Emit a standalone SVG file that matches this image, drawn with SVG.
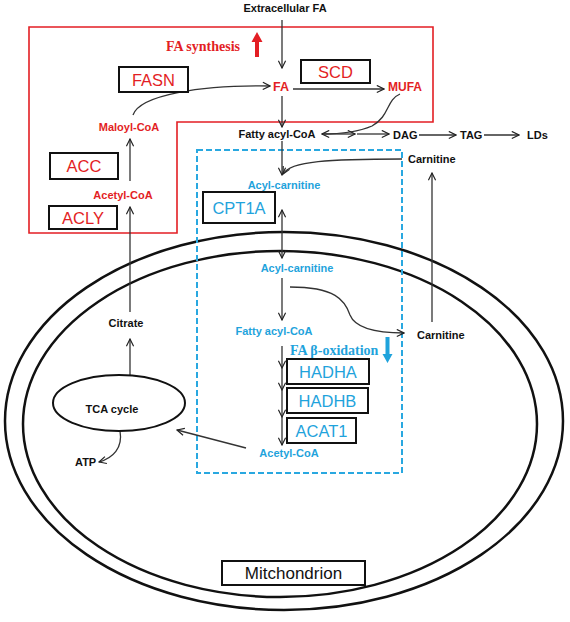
<svg xmlns="http://www.w3.org/2000/svg" width="570" height="622" viewBox="0 0 570 622">
<defs>
<marker id="arr" viewBox="0 0 10 10" refX="9" refY="5" markerWidth="9" markerHeight="9" markerUnits="userSpaceOnUse" orient="auto-start-reverse">
<path d="M1,1 L9,5 L1,9" fill="none" stroke="#222" stroke-width="1.3"/>
</marker>
<style>
.lbl{font-family:"Liberation Sans",Arial,sans-serif;font-weight:bold;font-size:11px}
.blk{fill:#111}
.red{fill:#e31e24}
.blu{fill:#1fa3dc}
.box{fill:#fff;stroke:#111;stroke-width:2}
.btxt{font-family:"Liberation Sans",Arial,sans-serif;font-size:16.5px;text-anchor:middle}
.ser{font-family:"Liberation Serif","Times New Roman",serif;font-weight:bold;font-size:14px}
.ln{fill:none;stroke:#333;stroke-width:1.3;marker-end:url(#arr)}
.mem{fill:none;stroke:#111;stroke-width:2.5}
</style>
</defs>
<rect width="570" height="622" fill="#fff"/>
<g id="membranes">
<ellipse class="mem" cx="284" cy="421" rx="279" ry="189"/>
<ellipse class="mem" cx="280" cy="424" rx="257" ry="173"/>
</g>
<g id="cytosol-synthesis">
<polygon points="29,27 433,27 433,122 177,122 177,233 29,233" fill="none" stroke="#e31e24" stroke-width="1.6"/>
</g>
<g id="oxidation-region">
<rect x="197" y="150" width="205" height="323" fill="none" stroke="#29a8e0" stroke-width="2" stroke-dasharray="6,3"/>
</g>
<g id="connectors">
<path class="ln" d="M282,20 L282,68"/>
<path class="ln" d="M282,96 L282,127"/>
<path class="ln" d="M293,89 L384,89"/>
<path class="ln" d="M133,115 C140,95 200,85 270,86"/>
<path class="ln" d="M130,181 L130,139"/>
<path class="ln" d="M130,312 L130,207"/>
<path class="ln" d="M130,375 L130,339"/>
<path class="ln" d="M120,431 C123,448 113,458 99,462"/>
<path class="ln" d="M400,94 C386,100 390,116 372,126 C358,132 340,134 322,134"/>
<path class="ln" d="M324,134 L355,134"/>
<path class="ln" d="M357,134 L389,134"/>
<path class="ln" d="M419,135 L456,135"/>
<path class="ln" d="M484,135 L519,135"/>
<path class="ln" d="M282,141 L282,175"/>
<path class="ln" d="M402,159 C330,159 290,161 283,174"/>
<path class="ln" d="M282,210 L282,258" style="marker-start:url(#arr)"/>
<path class="ln" d="M282,278 L282,320"/>
<path class="ln" d="M290,287 C335,287 345,300 350,315 C356,330 380,333 404,333"/>
<path class="ln" d="M432,322 L432,173"/>
<path class="ln" d="M282,346 L282,368"/>
<path class="ln" d="M282,368 L282,390"/>
<path class="ln" d="M282,390 L282,417"/>
<path class="ln" d="M282,417 L282,445"/>
<path class="ln" d="M246,448 L177,430"/>
</g>
<g id="updown-arrows">
<path d="M255,57 L255,42 L251.5,42 L257,32 L262.5,42 L259,42 L259,57 Z" fill="#e31e24"/>
<path d="M385.5,337 L385.5,354 L382.5,354 L387.5,363 L392.5,354 L389.5,354 L389.5,337 Z" fill="#1fa3dc"/>
</g>
<g id="n-extracellular"><text class="lbl blk" x="285" y="12" text-anchor="middle">Extracellular FA</text></g>
<g id="n-fasynth"><text class="ser red" x="166" y="51">FA synthesis</text></g>
<g id="n-fasn"><rect class="box" x="119" y="67" width="69" height="25"/><text class="btxt red" x="153.5" y="85.5">FASN</text></g>
<g id="n-scd"><rect class="box" x="301" y="60" width="69" height="23"/><text class="btxt red" x="335.5" y="77.5">SCD</text></g>
<g id="n-fa"><text class="lbl red" x="281" y="91" text-anchor="middle" style="font-size:12.5px">FA</text></g>
<g id="n-mufa"><text class="lbl red" x="388" y="91" style="font-size:12px">MUFA</text></g>
<g id="n-maloyl"><text class="lbl red" x="129" y="131" text-anchor="middle">Maloyl-CoA</text></g>
<g id="n-acc"><rect class="box" x="50" y="153" width="68" height="26"/><text class="btxt red" x="84" y="172">ACC</text></g>
<g id="n-acetyl-red"><text class="lbl red" x="123" y="199" text-anchor="middle">Acetyl-CoA</text></g>
<g id="n-acly"><rect class="box" x="49" y="206" width="68" height="23"/><text class="btxt red" x="83" y="223.5">ACLY</text></g>
<g id="n-fattyacyl"><text class="lbl blk" x="277" y="138" text-anchor="middle">Fatty acyl-CoA</text></g>
<g id="n-dag"><text class="lbl blk" x="393" y="139">DAG</text></g>
<g id="n-tag"><text class="lbl blk" x="460" y="139">TAG</text></g>
<g id="n-lds"><text class="lbl blk" x="527" y="139">LDs</text></g>
<g id="n-carnitine1"><text class="lbl blk" x="408" y="163">Carnitine</text></g>
<g id="n-acylcarn1"><text class="lbl blu" x="284" y="189" text-anchor="middle">Acyl-carnitine</text></g>
<g id="n-cpt1a"><rect class="box" x="203" y="192" width="72" height="31"/><text class="btxt blu" x="239" y="213.5">CPT1A</text></g>
<g id="n-acylcarn2"><text class="lbl blu" x="297" y="272" text-anchor="middle">Acyl-carnitine</text></g>
<g id="n-carnitine2"><text class="lbl blk" x="417" y="339">Carnitine</text></g>
<g id="n-fattyacyl2"><text class="lbl blu" x="274" y="335" text-anchor="middle">Fatty acyl-CoA</text></g>
<g id="n-betaox"><text class="ser blu" x="290" y="355">FA β-oxidation</text></g>
<g id="n-hadha"><rect class="box" x="287" y="359" width="82" height="25"/><text class="btxt blu" x="328" y="377.5">HADHA</text></g>
<g id="n-hadhb"><rect class="box" x="287" y="388" width="81" height="25"/><text class="btxt blu" x="327.5" y="406.5">HADHB</text></g>
<g id="n-acat1"><rect class="box" x="287" y="418" width="69" height="25"/><text class="btxt blu" x="321.5" y="436.5">ACAT1</text></g>
<g id="n-acetyl-blue"><text class="lbl blu" x="289" y="457" text-anchor="middle">Acetyl-CoA</text></g>
<g id="n-citrate"><text class="lbl blk" x="126" y="327" text-anchor="middle">Citrate</text></g>
<g id="n-tca"><ellipse cx="119" cy="403" rx="66" ry="28" fill="none" stroke="#111" stroke-width="2"/><text class="lbl blk" x="112" y="413" text-anchor="middle">TCA cycle</text></g>
<g id="n-atp"><text class="lbl blk" x="75" y="466">ATP</text></g>
<g id="n-mito"><rect class="box" x="222" y="561" width="143" height="24"/><text class="btxt blk" x="293.5" y="579" style="font-size:17px">Mitchondrion</text></g>
</svg>
